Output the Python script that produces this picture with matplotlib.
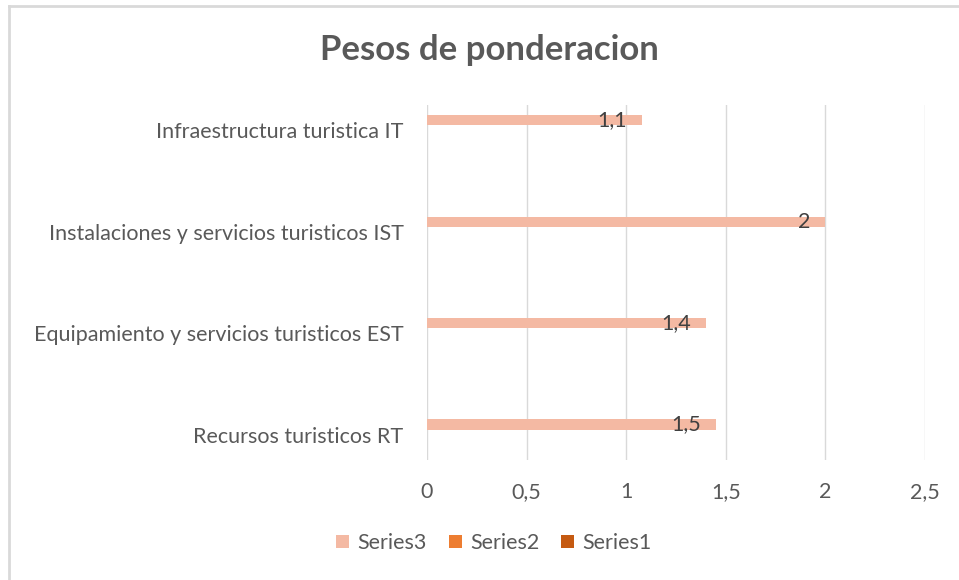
from decimal import Decimal, ROUND_HALF_UP
import numpy as np
import matplotlib.pyplot as plt
from matplotlib.lines import Line2D

# pesos de ponderacion por componente (de abajo hacia arriba)
categorias = ['Recursos turisticos RT',
              'Equipamiento y servicios turisticos EST',
              'Instalaciones y servicios turisticos IST',
              'Infraestructura turistica IT']
series3 = [1.45, 1.4, 2.0, 1.08]
series2 = [0, 0, 0, 0]
series1 = [0, 0, 0, 0]
xticks = [0, 0.5, 1, 1.5, 2, 2.5]


def etiqueta(v):
    # un decimal, coma como separador
    d = Decimal(str(v)).quantize(Decimal('0.1'), rounding=ROUND_HALF_UP).normalize()
    return str(d).replace('.', ',')


plt.rcParams['font.family'] = ['Lato', 'DejaVu Sans']
gris = '#595959'
fs = 15.5

fig = plt.figure(figsize=(9.59, 5.80), dpi=100)
ax = fig.add_axes([427/959, 1-460/580, 498/959, 355/580])

y = np.arange(len(categorias))
h = 0.1
ax.barh(y - h, series1, height=h, color='#C55A11', label='Series1')
ax.barh(y, series2, height=h, color='#ED7D31', label='Series2')
ax.barh(y + h, series3, height=h, color='#F4B9A3', label='Series3')

for yi, v in zip(y, series3):
    ax.text(v - 0.075, yi + h, etiqueta(v), ha='right', va='center',
            fontsize=fs, color='#404040')

ax.set_xlim(0, 2.5)
ax.set_ylim(-0.25, 3.25)
ax.set_xticks(xticks)
ax.set_xticklabels([etiqueta(t) for t in xticks])
ax.set_yticks(y)
ax.set_yticklabels(categorias)
ax.tick_params(axis='x', length=0, pad=16, labelsize=fs, labelcolor=gris)
ax.tick_params(axis='y', length=0, pad=17, labelsize=fs, labelcolor=gris)
ax.grid(axis='x', color='#D9D9D9', linewidth=1)
ax.set_axisbelow(True)
for s in ax.spines.values():
    s.set_visible(False)

fig.text(489/959, 1-50/580, 'Pesos de ponderacion', ha='center', va='center',
         fontsize=25, fontweight='bold', color=gris)

handles, labels = ax.get_legend_handles_labels()
ax.legend(handles[::-1], labels[::-1], loc='center', ncol=3,
          bbox_to_anchor=(494/959, 1-543/580), bbox_transform=fig.transFigure,
          frameon=False, fontsize=fs, labelcolor=gris,
          handlelength=0.6, handleheight=0.6, handletextpad=0.4, columnspacing=1.0)

# borde del grafico
fig.add_artist(Line2D([9/959, 1], [1-6/580, 1-6/580], color='#D9D9D9', linewidth=2))
fig.add_artist(Line2D([9/959, 9/959], [0, 1-6/580], color='#D9D9D9', linewidth=2))

fig.savefig('out.png', dpi=100)
